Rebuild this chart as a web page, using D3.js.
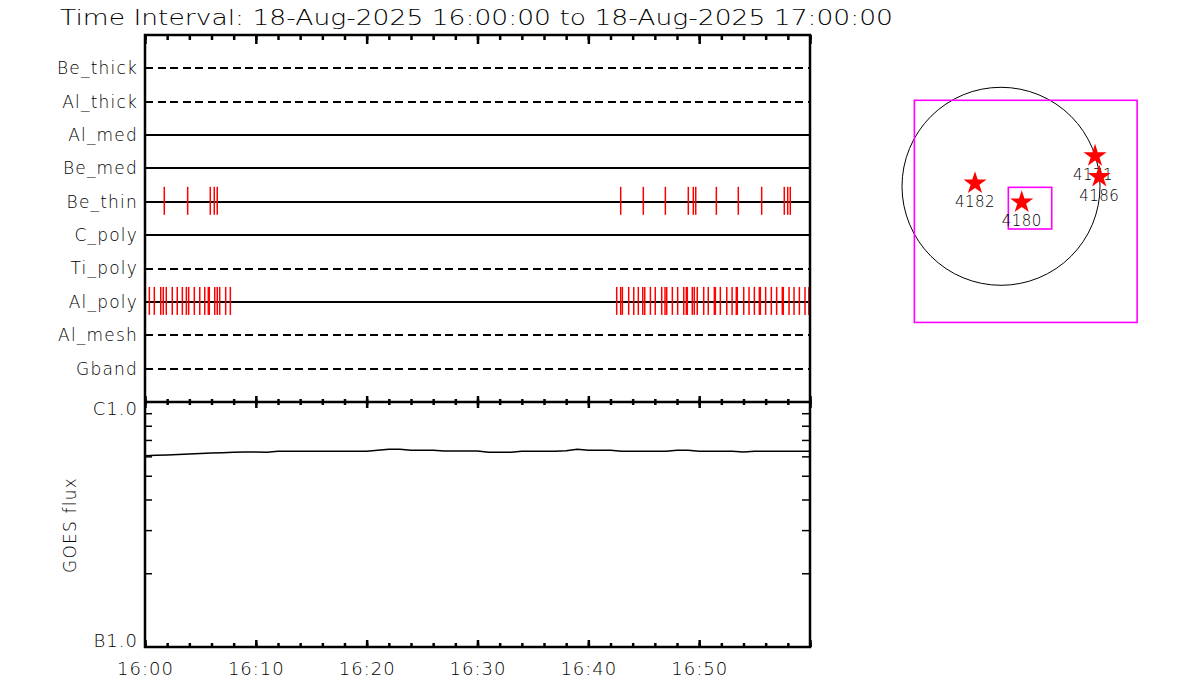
<!DOCTYPE html>
<html>
<head>
<meta charset="utf-8">
<script src="https://cdn.jsdelivr.net/npm/d3@7"></script>
<style>
body { margin: 0; background: #fff; }
svg { display: block; }
text { font-family: "DejaVu Sans", sans-serif; font-weight: 300; fill: #000; }
</style>
</head>
<body>
<svg width="1200" height="700"></svg>
<script>
// ---------------------------------------------------------------- data
var titleText = "Time Interval: 18-Aug-2025 16:00:00 to 18-Aug-2025 17:00:00";
var rows = ["Be_thick", "Al_thick", "Al_med", "Be_med", "Be_thin", "C_poly", "Ti_poly", "Al_poly", "Al_mesh", "Gband"];
var dashedRows = ["Be_thick", "Al_thick", "Ti_poly", "Al_mesh", "Gband"];

// filter events, minutes after 16:00
var beThinEvents = [1.74, 3.85, 5.89, 6.25, 6.52,
    42.92, 44.96, 46.95, 49.02, 49.47, 49.69, 51.55, 53.53, 55.64, 57.68, 57.99, 58.22];
var alPolyEvents = [0.39, 0.84, 1.42, 1.65, 1.92, 2.46, 2.91, 3.37, 3.73, 3.94, 4.45, 4.94,
    5.39, 5.71, 5.80, 6.29, 6.52, 6.74, 7.28, 7.70,
    42.56, 42.92, 43.07, 43.64, 44.10, 44.51, 44.91, 45.09, 45.60, 46.04, 46.62, 46.92, 47.07,
    47.58, 48.06, 48.61, 48.84, 48.93, 49.38, 49.56, 49.83, 50.41, 50.82, 51.37, 51.46, 51.91,
    52.49, 52.97, 53.35, 53.44, 54.02, 54.50, 54.98, 55.43, 55.52, 56.00, 56.51, 56.99, 57.50,
    57.59, 58.11, 58.56, 59.04, 59.55, 59.9];

// GOES flux (units of 1e-7 W/m^2), one per minute
var goesMinutes = [0,1,2,3,4,5,6,7,8,9,10,11,12,13,14,15,16,17,18,19,20,21,22,23,24,25,26,27,28,29,30,
    31,32,33,34,35,36,37,38,39,40,41,42,43,44,45,46,47,48,49,50,51,52,53,54,55,56,57,58,59,60];
var goesFlux = [6.04,6.06,6.08,6.11,6.13,6.16,6.19,6.21,6.23,6.25,6.25,6.23,6.29,6.29,6.29,6.29,
    6.29,6.29,6.29,6.29,6.29,6.35,6.41,6.41,6.35,6.35,6.35,6.31,6.31,6.31,6.31,
    6.23,6.23,6.23,6.29,6.29,6.29,6.29,6.33,6.41,6.35,6.35,6.35,6.29,6.29,6.29,6.29,6.29,
    6.35,6.35,6.29,6.29,6.29,6.29,6.25,6.29,6.29,6.29,6.29,6.29,6.29];
var goesTicks = [1e-7, 1e-6];
var goesTickLabels = ["B1.0", "C1.0"];
var goesMinor = [2e-7, 3e-7, 4e-7, 5e-7, 6e-7, 7e-7, 8e-7, 9e-7];

// solar disk panel, arcsec
var sunRadius = 960;
var fovBox = [-840, 1320, -1320, 834];      // x0, x1, y0, y1
var smallBox = [71, 492, -414, -10];
var arNums = ["4182", "4180", "4171", "4186"];
var arX = [-252, 201, 912, 953];
var arY = [29, -155, 294, 93];

// ---------------------------------------------------------------- layout
var svg = d3.select("svg");
var left = 145, right = 810, top1 = 35, mid = 402, bottom = 647;
var t0 = new Date(Date.UTC(2025, 7, 18, 16, 0, 0));
function tm(m) { return new Date(t0.getTime() + m * 60000); }

var x = d3.scaleUtc().domain([tm(0), tm(60)]).range([left, right]);
var y = d3.scalePoint().domain(rows).range([top1, mid]).padding(1);
var yg = d3.scaleLog().domain([1e-7, 1e-6]).range([bottom, mid]);

svg.append("text")
    .attr("x", 60).attr("y", 25)
    .attr("font-size", 21)
    .attr("textLength", 833).attr("lengthAdjust", "spacingAndGlyphs")
    .text(titleText);

// row lines
svg.append("g").selectAll("line")
    .data(rows).join("line")
    .attr("x1", left).attr("x2", right)
    .attr("y1", d => y(d)).attr("y2", d => y(d))
    .attr("stroke", "#000").attr("stroke-width", 2)
    .attr("stroke-dasharray", d => dashedRows.indexOf(d) >= 0 ? "8,4.5" : null)
    .attr("shape-rendering", "crispEdges");

function drawEvents(list, row) {
    svg.append("g").selectAll("line")
        .data(list).join("line")
        .attr("x1", d => x(tm(d))).attr("x2", d => x(tm(d)))
        .attr("y1", y(row) - 15).attr("y2", y(row) + 13)
        .attr("stroke", "#ff0000").attr("stroke-width", 1.5);
}
drawEvents(beThinEvents, "Be_thin");
drawEvents(alPolyEvents, "Al_poly");

// row labels
var rowAxis = svg.append("g")
    .attr("transform", "translate(" + left + ",0)")
    .call(d3.axisLeft(y).tickSize(0).tickPadding(7));
rowAxis.select(".domain").remove();
rowAxis.selectAll("text").attr("font-size", 17).attr("letter-spacing", 1.2)
    .attr("font-family", null);

// GOES curve
var line = d3.line()
    .x((d, i) => x(tm(goesMinutes[i])))
    .y(d => yg(d * 1e-7));
svg.append("path")
    .datum(goesFlux)
    .attr("d", line)
    .attr("fill", "none").attr("stroke", "#000").attr("stroke-width", 1.5);

// time ticks
function timeTicks(ypos, dir, every, size) {
    var ax = dir === "down" ? d3.axisBottom(x) : d3.axisTop(x);
    var g = svg.append("g")
        .attr("transform", "translate(0," + ypos + ")")
        .call(ax.ticks(d3.utcMinute.every(every)).tickSize(size).tickFormat(""));
    g.select(".domain").remove();
    g.selectAll("line").attr("stroke-width", 2.5);
}
timeTicks(top1, "down", 2, 5);
timeTicks(top1, "down", 10, 9);
timeTicks(mid, "down", 2, 3);
timeTicks(mid, "up", 2, 3);
timeTicks(mid, "down", 10, 6);
timeTicks(mid, "up", 10, 6);
timeTicks(bottom, "up", 2, 4);
timeTicks(bottom, "up", 10, 7);

var xLab = svg.append("g")
    .attr("transform", "translate(0," + bottom + ")")
    .call(d3.axisBottom(x)
        .tickValues(d3.utcMinute.every(10).range(tm(0), tm(60)))
        .tickSize(0).tickPadding(15)
        .tickFormat(d3.utcFormat("%H:%M")));
xLab.select(".domain").remove();
xLab.selectAll("text").attr("font-size", 18).attr("letter-spacing", 1).attr("font-family", null);

// GOES y axis
var gl = svg.append("g")
    .attr("transform", "translate(" + left + ",0)")
    .call(d3.axisRight(yg).tickValues(goesMinor).tickSize(7).tickFormat(""));
gl.select(".domain").remove();
gl.selectAll("line").attr("stroke-width", 1.5);
var gr = svg.append("g")
    .attr("transform", "translate(" + right + ",0)")
    .call(d3.axisLeft(yg).tickValues(goesMinor).tickSize(8).tickFormat(""));
gr.select(".domain").remove();
gr.selectAll("line").attr("stroke-width", 1.5);

var gLab = svg.append("g")
    .attr("transform", "translate(" + left + ",0)")
    .call(d3.axisLeft(yg).tickValues(goesTicks).tickSize(0).tickPadding(7)
        .tickFormat((d, i) => goesTickLabels[i]));
gLab.select(".domain").remove();
gLab.selectAll("text").attr("font-size", 18).attr("letter-spacing", 1).attr("font-family", null)
    .attr("dy", (d, i) => i === 0 ? "-0.05em" : "0.67em");

svg.append("text")
    .attr("transform", "translate(76,525) rotate(-90)")
    .attr("text-anchor", "middle")
    .attr("font-size", 17).attr("letter-spacing", 1.2)
    .text("GOES flux");

// frame
var frame = svg.append("g").attr("fill", "none").attr("stroke", "#000").attr("stroke-width", 2.5);
frame.append("rect").attr("x", left).attr("y", top1).attr("width", right - left).attr("height", bottom - top1);
frame.append("line").attr("x1", left).attr("x2", right).attr("y1", mid).attr("y2", mid);

// ---------------------------------------------------------------- sun panel
var sx = d3.scaleLinear().domain([-sunRadius, sunRadius]).range([902, 1100]);
var sy = d3.scaleLinear().domain([-sunRadius, sunRadius]).range([285.3, 87.3]);

svg.append("circle")
    .attr("cx", sx(0)).attr("cy", sy(0)).attr("r", sx(sunRadius) - sx(0))
    .attr("fill", "none").attr("stroke", "#000").attr("stroke-width", 1);

function box(b) {
    svg.append("rect")
        .attr("x", sx(b[0])).attr("y", sy(b[3]))
        .attr("width", sx(b[1]) - sx(b[0])).attr("height", sy(b[2]) - sy(b[3]))
        .attr("fill", "none").attr("stroke", "#ff00ff").attr("stroke-width", 1.6);
}
box(fovBox);
box(smallBox);

var star = d3.symbol().type(d3.symbolStar).size(165);
var ar = svg.append("g").selectAll("g")
    .data(arNums).join("g")
    .attr("transform", (d, i) => "translate(" + sx(arX[i]) + "," + sy(arY[i]) + ")");
ar.append("path").attr("d", star).attr("fill", "#ff0000");
ar.append("text")
    .attr("y", 24).attr("x", (d, i) => i === 2 ? -2 : 0)
    .attr("text-anchor", "middle")
    .attr("font-size", 15).attr("letter-spacing", 0.5)
    .text(d => d);
</script>
</body>
</html>
